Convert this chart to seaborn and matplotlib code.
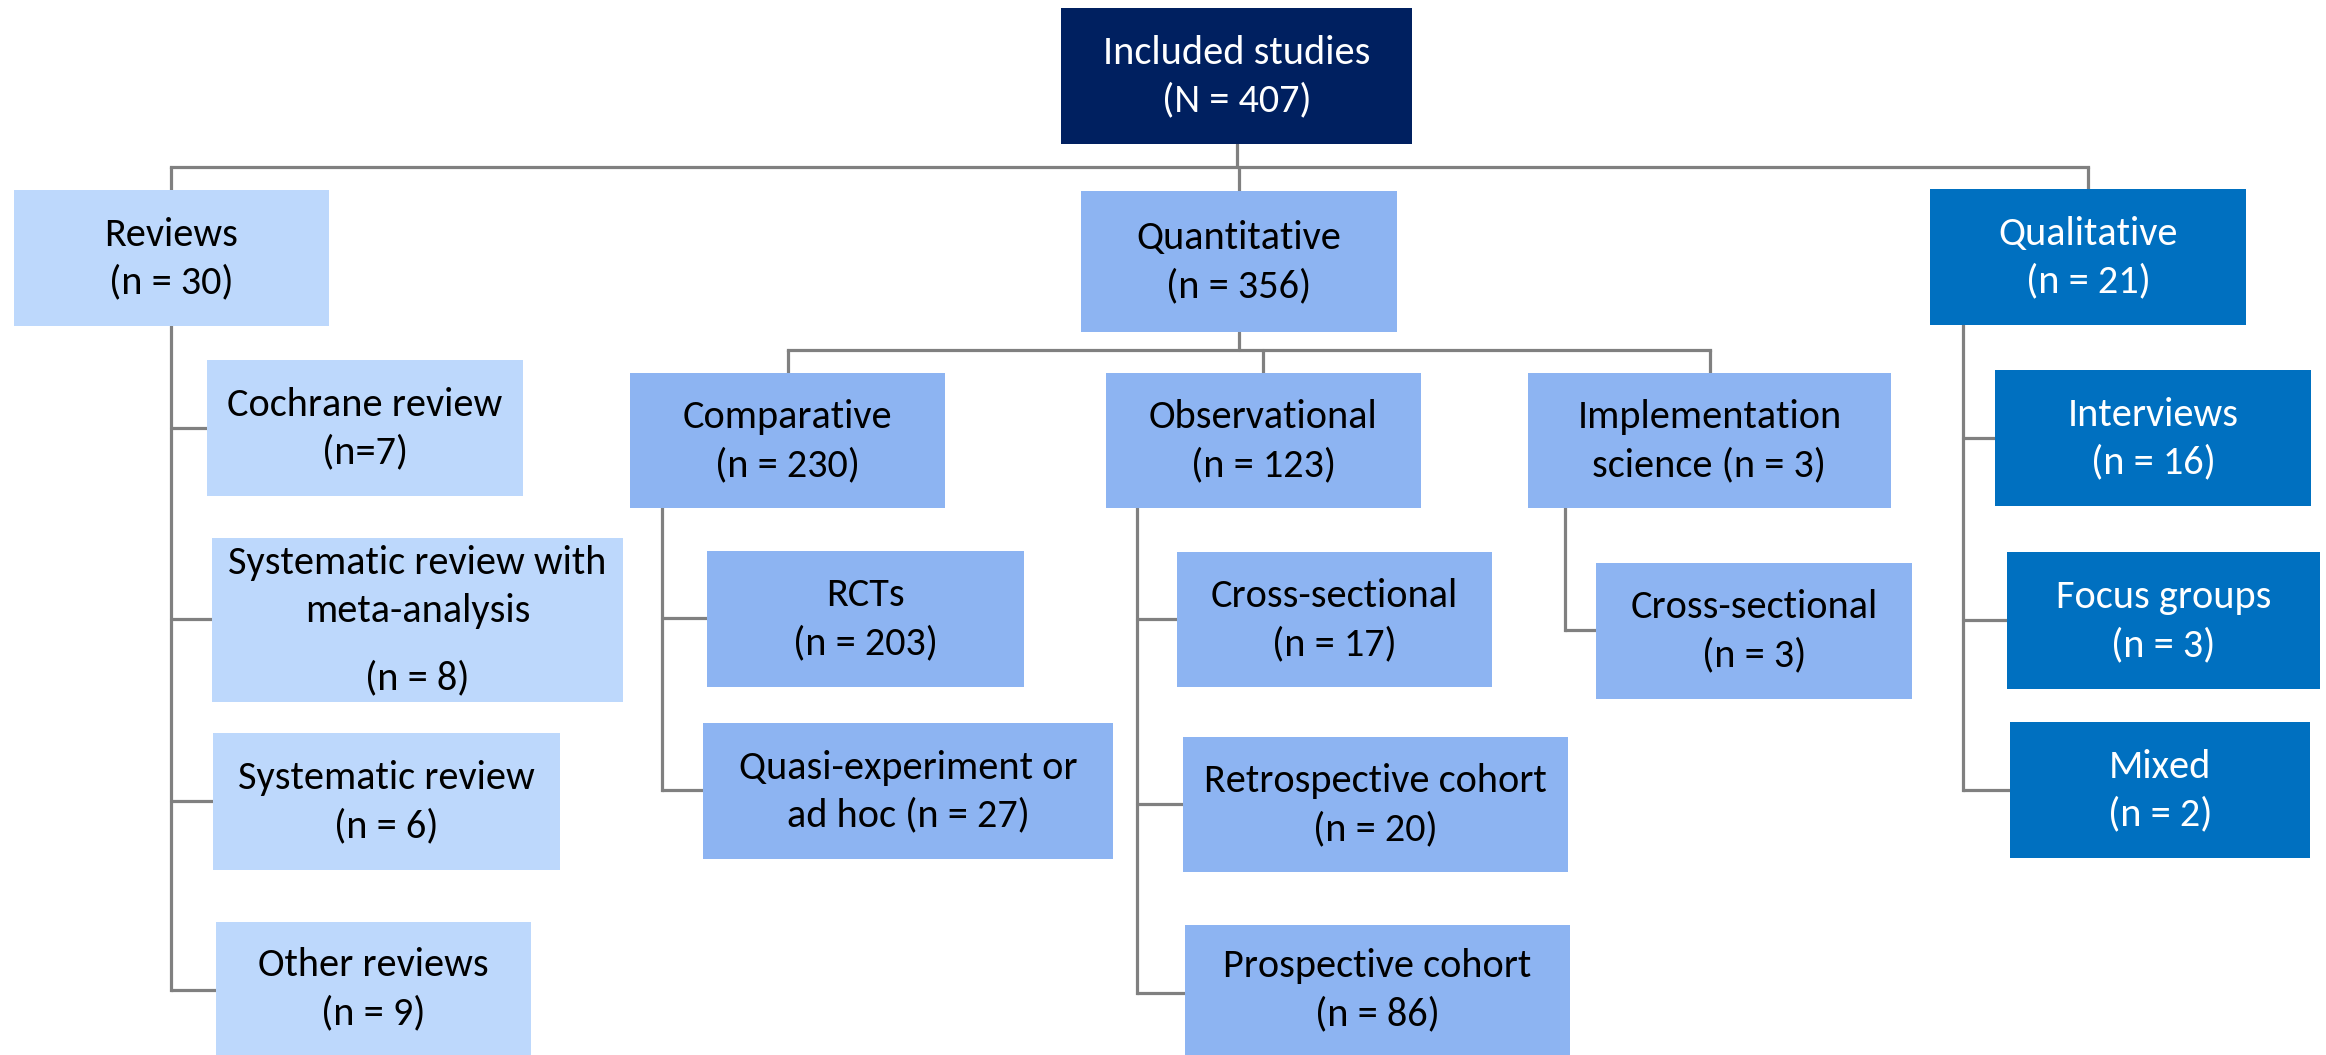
import matplotlib
matplotlib.use("Agg")
import matplotlib.pyplot as plt
from matplotlib import font_manager
from matplotlib.patches import Rectangle
import seaborn as sns

# node texts ({} is replaced by the count) and counts
node_ids = ["all", "rev", "quant", "qual",
            "cochrane", "srma", "sr", "other",
            "comp", "obs", "impl",
            "rct", "quasi",
            "cs_obs", "retro", "prosp",
            "cs_impl",
            "interv", "focus", "mixed"]
node_text = ["Included studies\n(N = {})", "Reviews\n(n = {})", "Quantitative\n(n = {})", "Qualitative\n(n = {})",
             "Cochrane review\n(n={})", "Systematic review with\nmeta-analysis\n\n(n = {})",
             "Systematic review\n(n = {})", "Other reviews\n(n = {})",
             "Comparative\n(n = {})", "Observational\n(n = {})", "Implementation\nscience (n = {})",
             "RCTs\n(n = {})", "Quasi-experiment or\nad hoc (n = {})",
             "Cross-sectional\n(n = {})", "Retrospective cohort\n(n = {})", "Prospective cohort\n(n = {})",
             "Cross-sectional\n(n = {})",
             "Interviews\n(n = {})", "Focus groups\n(n = {})", "Mixed\n(n = {})"]
counts = [407, 30, 356, 21, 7, 8, 6, 9, 230, 123, 3, 203, 27, 17, 20, 86, 3, 16, 3, 2]
group = ["top", "rev", "quant", "qual",
         "rev", "rev", "rev", "rev",
         "quant", "quant", "quant",
         "quant", "quant",
         "quant", "quant", "quant",
         "quant",
         "qual", "qual", "qual"]

# layout in figure pixels (x0, y0, x1, y1), y downwards
boxes = {
    "all": (1061, 8, 1412, 144),
    "rev": (14, 190, 329, 326),
    "quant": (1081, 191, 1397, 332),
    "qual": (1930, 189, 2246, 325),
    "cochrane": (207, 360, 523, 496),
    "srma": (212, 538, 623, 702),
    "sr": (213, 733, 560, 870),
    "other": (216, 922, 531, 1060),
    "comp": (630, 373, 945, 508),
    "obs": (1106, 373, 1421, 508),
    "impl": (1528, 373, 1891, 508),
    "rct": (707, 551, 1024, 687),
    "quasi": (703, 723, 1113, 859),
    "cs_obs": (1177, 552, 1492, 687),
    "retro": (1183, 737, 1568, 872),
    "prosp": (1185, 925, 1570, 1060),
    "cs_impl": (1596, 563, 1912, 699),
    "interv": (1995, 370, 2311, 506),
    "focus": (2007, 552, 2320, 689),
    "mixed": (2010, 722, 2310, 858),
}

# tree: parent -> children, fanned out from a horizontal bar or a side trunk
fan_bar = {"all": (167, ["rev", "quant", "qual"], [171, 1239, 2088]),
           "quant": (350, ["comp", "obs", "impl"], [788, 1263, 1710])}
side_trunk = {"rev": (171, ["cochrane", "srma", "sr", "other"], [428, 619, 801, 990]),
              "comp": (662, ["rct", "quasi"], [618, 790]),
              "obs": (1137, ["cs_obs", "retro", "prosp"], [619, 804, 993]),
              "impl": (1565, ["cs_impl"], [630]),
              "qual": (1963, ["interv", "focus", "mixed"], [438, 620, 790])}
stem_x = {"all": 1237, "quant": 1239}

fill = {"top": "#002060", "rev": "#BDD8FC", "quant": "#8DB4F2", "qual": "#0070C0"}
ink = {"top": "white", "rev": "black", "quant": "black", "qual": "white"}
line_col = "#808080"

sns.set_theme(style="white")
fam = "DejaVu Sans"
for cand in ["Carlito", "Liberation Sans Narrow", "Lato"]:
    try:
        font_manager.findfont(cand, fallback_to_default=False)
        fam = cand
        break
    except Exception:
        pass
plt.rcParams["font.family"] = [fam, "DejaVu Sans"]
fsize = 29 if fam in ("Carlito", "Liberation Sans Narrow") else 25.5

W, H = 2326, 1055
fig = plt.figure(figsize=(W / 100, H / 100), dpi=100)
ax = fig.add_axes([0, 0, 1, 1])
ax.set_xlim(0, W)
ax.set_ylim(H, 0)
ax.axis("off")

lw = 2.3
for parent, (yb, kids, xs) in fan_bar.items():
    ax.plot([stem_x[parent]] * 2, [boxes[parent][3], yb], color=line_col, lw=lw, zorder=1)
    ax.plot([min(xs), max(xs)], [yb, yb], color=line_col, lw=lw, zorder=1, solid_capstyle="projecting")
    for k, x in zip(kids, xs):
        ax.plot([x, x], [yb, boxes[k][1]], color=line_col, lw=lw, zorder=1)
for parent, (xt, kids, ys) in side_trunk.items():
    ax.plot([xt, xt], [boxes[parent][3], max(ys)], color=line_col, lw=lw, zorder=1, solid_capstyle="projecting")
    for k, y in zip(kids, ys):
        ax.plot([xt, boxes[k][0]], [y, y], color=line_col, lw=lw, zorder=1)

line_h = 48
for nid, txt, n, g in zip(node_ids, node_text, counts, group):
    x0, y0, x1, y1 = boxes[nid]
    ax.add_patch(Rectangle((x0, y0), x1 - x0, y1 - y0, facecolor=fill[g], edgecolor="none", zorder=2))
    lines = txt.format(n).split("\n")
    # blank line counts as a smaller gap
    steps = [0]
    for prev in lines[:-1]:
        steps.append(steps[-1] + (line_h * 0.4 if prev == "" else line_h))
    lines_kept = [(l, s) for l, s in zip(lines, steps) if l != ""]
    total = lines_kept[-1][1]
    cx = (x0 + x1) / 2
    cy = (y0 + min(y1, H) + 1) / 2
    for l, s in lines_kept:
        ax.text(cx, cy - total / 2 + s, l, ha="center", va="center", fontsize=fsize,
                color=ink[g], zorder=3)

fig.savefig("out.png", dpi=100)
